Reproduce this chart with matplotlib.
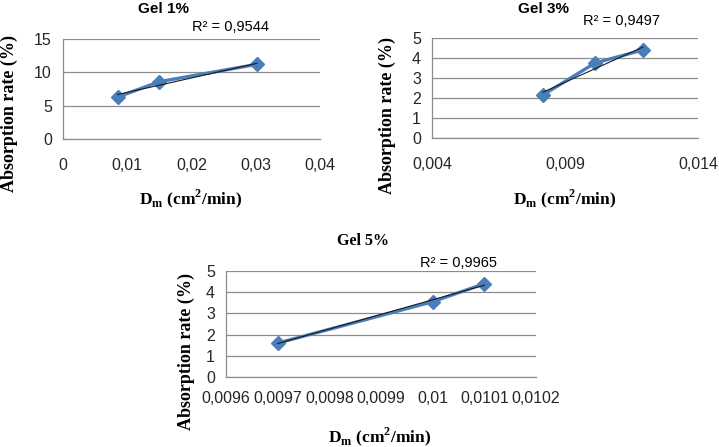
import numpy as np
import matplotlib
matplotlib.use("Agg")
import matplotlib.pyplot as plt
from matplotlib.ticker import FuncFormatter

# ---- data ----
titles = ["Gel 1%", "Gel 3%", "Gel 5%"]
r2_labels = ["R² = 0,9544", "R² = 0,9497", "R² = 0,9965"]

x_gel1 = [0.0085, 0.0150, 0.0302]
y_gel1 = [6.3, 8.6, 11.2]
x_gel3 = [0.00817, 0.01013, 0.01193]
y_gel3 = [2.15, 3.75, 4.4]
x_gel5 = [0.00970, 0.01000, 0.01010]
y_gel5 = [1.6, 3.55, 4.4]

xticks_gel1 = [0, 0.01, 0.02, 0.03, 0.04]
yticks_gel1 = [0, 5, 10, 15]
xticks_gel3 = [0.004, 0.009, 0.014]
yticks_gel3 = [0, 1, 2, 3, 4, 5]
xticks_gel5 = [0.0096, 0.0097, 0.0098, 0.0099, 0.0100, 0.0101, 0.0102]
yticks_gel5 = [0, 1, 2, 3, 4, 5]

ylabel = "Absorption rate (%)"
xlabel = r"D$_\mathregular{m}$ (cm$^\mathregular{2}$/min)"

W, H = 719, 447
fig = plt.figure(figsize=(W / 100, H / 100), dpi=100)

def rect(l, t, r, b):
    return [l / W, 1 - b / H, (r - l) / W, (b - t) / H]

def fmt(v, pos):
    s = ("%.4f" % v).rstrip("0").rstrip(".")
    if s in ("-0",):
        s = "0"
    return s.replace(".", ",")

BLUE = "#4a7ebb"
GRID = "#8c8c8c"
SANS = "Liberation Sans"
SERIF = "Liberation Serif"

panels = [
    dict(x=x_gel1, y=y_gel1, xt=xticks_gel1, yt=yticks_gel1, box=(63, 39, 320, 139), xpad=14),
    dict(x=x_gel3, y=y_gel3, xt=xticks_gel3, yt=yticks_gel3, box=(432, 38, 698, 138), xpad=14),
    dict(x=x_gel5, y=y_gel5, xt=xticks_gel5, yt=yticks_gel5, box=(226, 271, 536, 377), xpad=10),
]

for p in panels:
    ax = fig.add_axes(rect(*p["box"]))
    ax.set_xlim(p["xt"][0], p["xt"][-1])
    ax.set_ylim(p["yt"][0], p["yt"][-1])
    ax.set_xticks(p["xt"])
    ax.set_yticks(p["yt"])
    ax.xaxis.set_major_formatter(FuncFormatter(fmt))
    ax.yaxis.set_major_formatter(FuncFormatter(fmt))
    ax.grid(axis="y", color=GRID, linewidth=0.9)
    ax.set_axisbelow(True)
    for s in ("top", "right"):
        ax.spines[s].set_visible(False)
    for s in ("left", "bottom"):
        ax.spines[s].set_color(GRID)
        ax.spines[s].set_linewidth(0.9)
    ax.tick_params(axis="both", length=0, labelsize=11.5, colors="#262626")
    ax.tick_params(axis="x", pad=p["xpad"])
    ax.tick_params(axis="y", pad=8)
    for lab in ax.get_xticklabels() + ax.get_yticklabels():
        lab.set_fontfamily(SANS)
    ax.plot(p["x"], p["y"], color=BLUE, linewidth=2.4, marker="D",
            markersize=7, markerfacecolor=BLUE, markeredgecolor=BLUE, zorder=3)
    xs = np.array(p["x"])
    k, b = np.polyfit(xs, np.array(p["y"]), 1)
    xe = np.array([xs.min(), xs.max()])
    ax.plot(xe, k * xe + b, color="#1a1a1a", linewidth=0.8, zorder=4)

# titles
fig.text(164 / W, 1 - 9 / H, titles[0], ha="center", va="center",
         fontsize=11, fontweight="bold", family=SANS)
fig.text(544 / W, 1 - 9 / H, titles[1], ha="center", va="center",
         fontsize=11, fontweight="bold", family=SANS)
fig.text(363 / W, 1 - 241 / H, titles[2], ha="center", va="center",
         fontsize=11.5, fontweight="bold", family=SERIF)

# R² annotations
fig.text(192 / W, 1 - 27 / H, r2_labels[0], ha="left", va="center", fontsize=10.5, family=SANS)
fig.text(583 / W, 1 - 21 / H, r2_labels[1], ha="left", va="center", fontsize=10.5, family=SANS)
fig.text(420 / W, 1 - 263 / H, r2_labels[2], ha="left", va="center", fontsize=10.5, family=SANS)

# axis labels
for (xx, yy) in [(9, 113), (387, 115), (186, 352)]:
    fig.text(xx / W, 1 - yy / H, ylabel, rotation=90, ha="center", va="center",
             fontsize=13, fontweight="bold", family=SERIF)
for (xx, yy) in [(191, 199), (565, 199), (380, 437)]:
    fig.text(xx / W, 1 - yy / H, xlabel, ha="center", va="center",
             fontsize=12.5, fontweight="bold", family=SERIF)

fig.savefig("out.png", dpi=100)
